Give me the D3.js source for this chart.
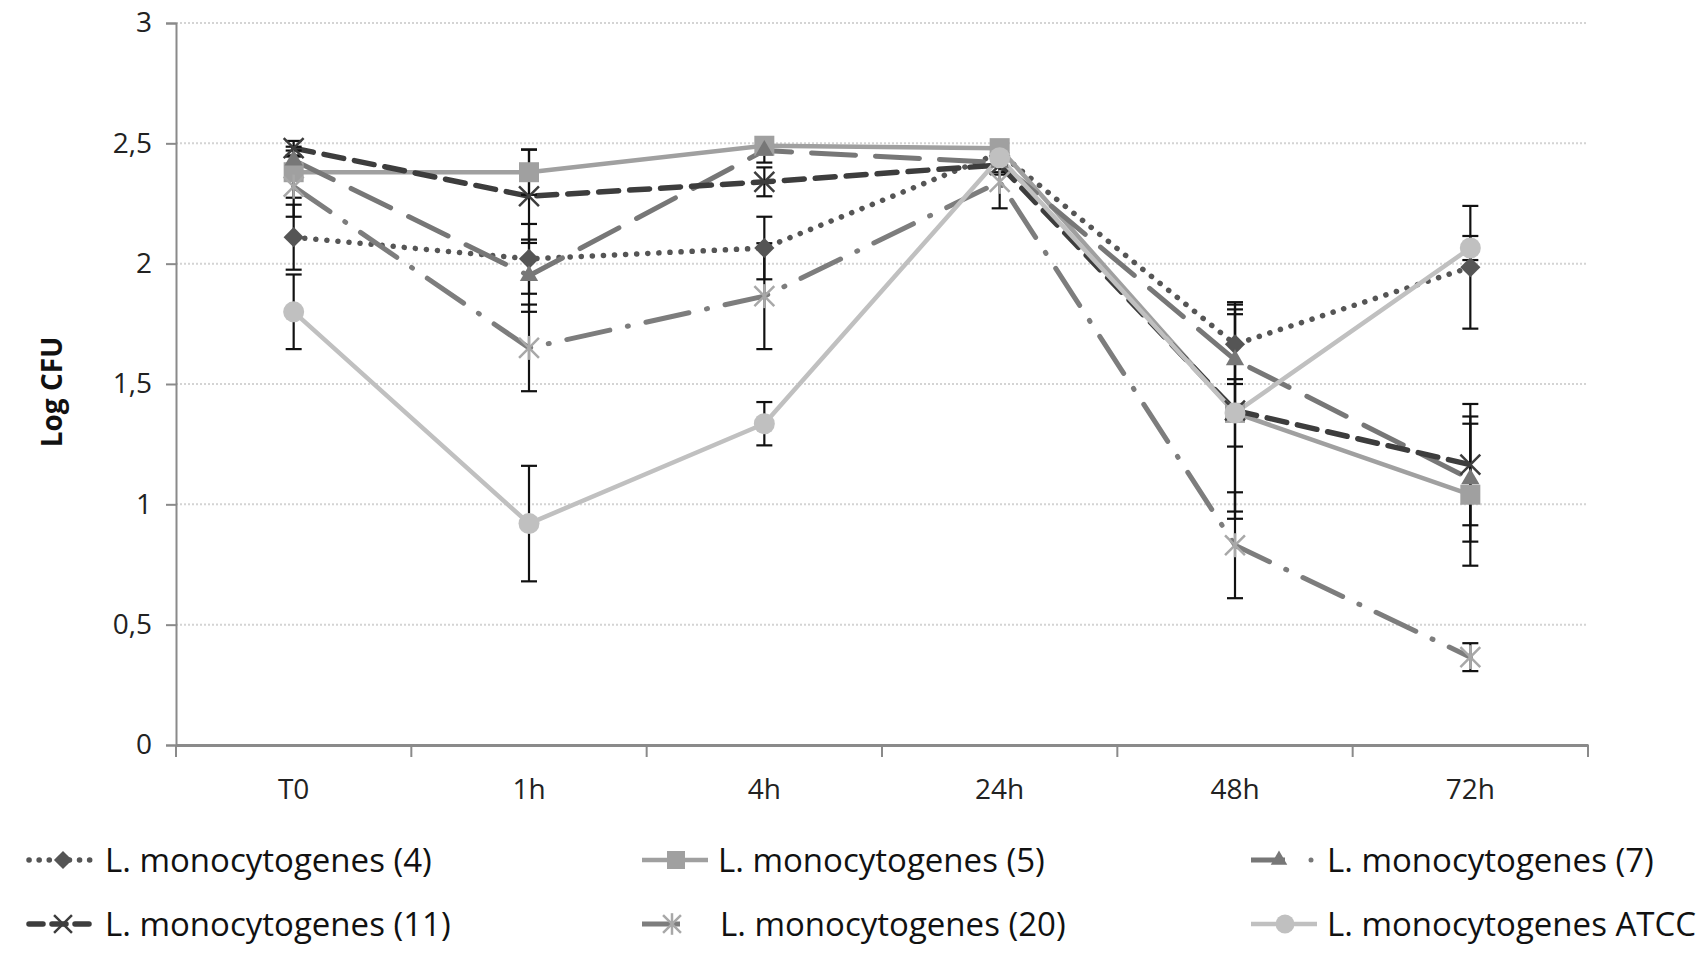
<!DOCTYPE html>
<html><head><meta charset="utf-8">
<script src="https://cdn.jsdelivr.net/npm/d3@7"></script>
<style>html,body{margin:0;padding:0;background:#fff;}svg{display:block;}</style>
</head><body>
<svg id="chart" width="1700" height="955"></svg>
<script>
const categories = ["T0","1h","4h","24h","48h","72h"];
const yTicks = [0,0.5,1,1.5,2,2.5,3];
const seriesNames = ["L. monocytogenes (4)","L. monocytogenes (5)","L. monocytogenes (7)","L. monocytogenes (11)","L. monocytogenes (20)","L. monocytogenes ATCC"];
const vals4   = [2.11,2.02,2.065,2.46,1.665,1.985];
const vals5   = [2.38,2.38,2.49,2.48,1.38,1.04];
const vals7   = [2.43,1.95,2.47,2.42,1.60,1.105];
const vals11  = [2.48,2.28,2.34,2.41,1.39,1.165];
const vals20  = [2.32,1.65,1.865,2.34,0.83,0.365];
const valsATCC= [1.80,0.92,1.335,2.44,1.38,2.065];
const err4    = [0.135,0.145,0.13,0.04,0.165,0.255];
const err5    = [0.106,0.094,0.03,0.03,0.41,0.295];
const err7    = [0.04,0.15,0.05,0.04,0.21,0.26];
const err11   = [0.03,0.194,0.06,0.04,0.45,0.252];
const err20   = [0.125,0.18,0.22,0.11,0.22,0.058];
const errATCC = [0.155,0.24,0.09,0.03,0.14,0.05];

const styles = [
  {vals:vals4, err:err4, stroke:"#555555", fill:"#555555", dash:"0.1 11", cap:"round", w:5.5, marker:"diamond"},
  {vals:vals5, err:err5, stroke:"#a0a0a0", fill:"#a0a0a0", dash:null, cap:"butt", w:4.5, marker:"square"},
  {vals:vals7, err:err7, stroke:"#777777", fill:"#777777", dash:"44 20", cap:"round", w:5, marker:"triangle"},
  {vals:vals11, err:err11, stroke:"#3d3d3d", fill:"#3d3d3d", dash:"20 11", cap:"round", w:5.5, marker:"x"},
  {vals:vals20, err:err20, stroke:"#7d7d7d", fill:"#a8a8a8", dash:"44 18 1 18", cap:"round", w:5, marker:"star"},
  {vals:valsATCC, err:errATCC, stroke:"#c0c0c0", fill:"#c0c0c0", dash:null, cap:"butt", w:4.5, marker:"circle"}
];

const svg = d3.select("#chart");
const mLeft = 176, mRight = 1588, mTop = 23, mBottom = 745;
const x = d3.scaleBand().domain(categories).range([mLeft, mRight]).padding(0);
const cx = d => x(d) + x.bandwidth()/2;
const y = d3.scaleLinear().domain([0,3]).range([mBottom, mTop]);
const font = "'Open Sans', 'DejaVu Sans', sans-serif";

// gridlines
svg.append("g").selectAll("line").data(yTicks.filter(d=>d>0)).join("line")
  .attr("x1", mLeft).attr("x2", mRight).attr("y1", d=>y(d)).attr("y2", d=>y(d))
  .attr("stroke", "#d4d4d4").attr("stroke-width", 2).attr("stroke-dasharray", "2 2");

// y axis
const yAxis = d3.axisLeft(y).tickValues(yTicks).tickSize(10).tickPadding(14)
  .tickFormat(d => String(d).replace(".", ","));
const gy = svg.append("g").attr("transform", `translate(${mLeft},0)`).call(yAxis);
gy.select(".domain").attr("stroke", "#8a8a8a").attr("stroke-width", 2);
gy.selectAll(".tick line").attr("stroke", "#8a8a8a").attr("stroke-width", 2);
gy.selectAll(".tick text").attr("font-family", font).attr("font-size", 28).attr("fill", "#222");

// x axis
const xAxis = d3.axisBottom(x).tickSize(0).tickPadding(34);
const gx = svg.append("g").attr("transform", `translate(0,${mBottom})`).call(xAxis);
gx.select(".domain").attr("stroke", "#8a8a8a").attr("stroke-width", 3);
gx.selectAll(".tick text").attr("font-family", font).attr("font-size", 28).attr("fill", "#222");
const bounds = categories.map(c => x(c)).concat([x(categories[categories.length-1]) + x.bandwidth()]);
svg.append("g").selectAll("line").data(bounds).join("line")
  .attr("x1", d=>d).attr("x2", d=>d).attr("y1", mBottom).attr("y2", mBottom+12)
  .attr("stroke", "#8a8a8a").attr("stroke-width", 2);

// axis title
svg.append("text").attr("transform", `translate(62,${(mTop+mBottom)/2+8}) rotate(-90)`)
  .attr("text-anchor", "middle").attr("font-family", font).attr("font-weight", "bold")
  .attr("font-size", 28).attr("fill", "#111").text("Log CFU");

// lines
const line = d3.line().x((d,i)=>cx(categories[i])).y(d=>y(d));
styles.forEach(s => {
  svg.append("path").datum(s.vals).attr("d", line).attr("fill", "none")
    .attr("stroke", s.stroke).attr("stroke-width", s.w)
    .attr("stroke-dasharray", s.dash).attr("stroke-linecap", s.cap).attr("stroke-linejoin", "round");
});

// error bars
styles.forEach(s => {
  const g = svg.append("g");
  s.vals.forEach((v,i) => {
    const px = cx(categories[i]);
    const y1 = y(v + s.err[i]), y2 = y(v - s.err[i]);
    g.append("line").attr("x1", px).attr("x2", px).attr("y1", y1).attr("y2", y2).attr("stroke", "#111").attr("stroke-width", 2.2);
    [y1,y2].forEach(yy => g.append("line").attr("x1", px-8).attr("x2", px+8).attr("y1", yy).attr("y2", yy).attr("stroke", "#111").attr("stroke-width", 2.2));
  });
});

function drawMarker(g, type, px, py, s, scale) {
  const k = scale || 1;
  if (type === "diamond") {
    g.append("path").attr("d", d3.symbol(d3.symbolDiamond2, 260*k*k)()).attr("transform", `translate(${px},${py})`).attr("fill", s.fill);
  } else if (type === "square") {
    g.append("rect").attr("x", px-10*k).attr("y", py-10*k).attr("width", 20*k).attr("height", 20*k).attr("fill", s.fill);
  } else if (type === "triangle") {
    g.append("path").attr("d", d3.symbol(d3.symbolTriangle2, 240*k*k)()).attr("transform", `translate(${px},${py})`).attr("fill", s.fill);
  } else if (type === "circle") {
    g.append("circle").attr("cx", px).attr("cy", py).attr("r", 10.5*k).attr("fill", s.fill);
  } else if (type === "x") {
    g.append("path").attr("d", d3.symbol(d3.symbolX, 260*k*k)()).attr("transform", `translate(${px},${py})`)
      .attr("fill", "none").attr("stroke", s.fill).attr("stroke-width", 2.5);
  } else if (type === "star") {
    g.append("path").attr("d", d3.symbol(d3.symbolX, 260*k*k)()).attr("transform", `translate(${px},${py})`)
      .attr("fill", "none").attr("stroke", s.fill).attr("stroke-width", 2.5);
    g.append("line").attr("x1", px).attr("x2", px).attr("y1", py-12*k).attr("y2", py+12*k).attr("stroke", s.fill).attr("stroke-width", 2.5);
  }
}

// markers
styles.forEach(s => {
  const g = svg.append("g");
  s.vals.forEach((v,i) => drawMarker(g, s.marker, cx(categories[i]), y(v), s, 1));
});

// legend
const legendCols = [27, 640, 1249];
const legendRows = [860, 924];
const lg = svg.append("g");
seriesNames.forEach((name, i) => {
  const s = styles[i];
  const lx = legendCols[i % 3], ly = legendRows[Math.floor(i / 3)];
  const g = lg.append("g");
  let dash = s.dash;
  if (s.marker === "diamond") dash = "0.1 10";
  if (s.marker === "x") dash = "14 9";
  if (s.marker === "triangle") {
    g.append("line").attr("x1", lx+2).attr("x2", lx+36).attr("y1", ly).attr("y2", ly).attr("stroke", s.stroke).attr("stroke-width", s.w);
    g.append("circle").attr("cx", lx+62).attr("cy", ly).attr("r", 2.5).attr("fill", s.stroke);
    drawMarker(g, s.marker, lx+30, ly, s, 0.9);
  } else if (s.marker === "star") {
    g.append("line").attr("x1", lx+2).attr("x2", lx+40).attr("y1", ly).attr("y2", ly).attr("stroke", s.stroke).attr("stroke-width", s.w);
    drawMarker(g, s.marker, lx+32, ly, s, 0.9);
  } else {
    g.append("line").attr("x1", lx+2).attr("x2", lx+68).attr("y1", ly).attr("y2", ly)
      .attr("stroke", s.stroke).attr("stroke-width", s.w).attr("stroke-dasharray", dash).attr("stroke-linecap", s.cap);
    drawMarker(g, s.marker, lx+36, ly, s, 0.9);
  }
  g.append("text").attr("x", lx + (s.marker === "star" ? 80 : 78)).attr("y", ly).attr("dy", "0.36em")
    .attr("font-family", font).attr("font-size", 33).attr("fill", "#111").text(name);
});
</script>
</body></html>
